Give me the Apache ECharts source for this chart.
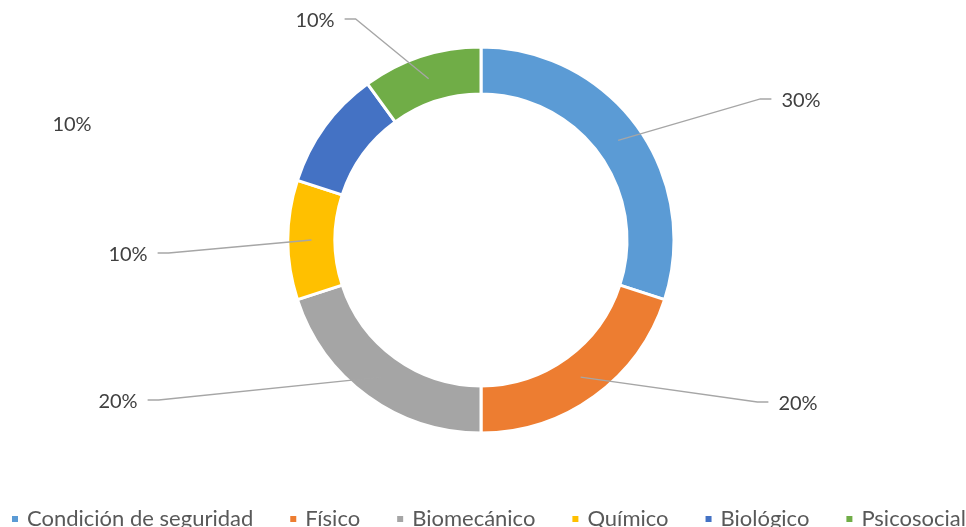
<!DOCTYPE html>
<html>
<head>
<meta charset="utf-8">
<script src="https://cdn.jsdelivr.net/npm/echarts@6/dist/echarts.min.js"></script>
<style>
  html, body { margin: 0; padding: 0; background: #fff; }
  #chart { width: 966px; height: 527px; }
</style>
</head>
<body>
<div id="chart"></div>
<script>
// categories and shares (percent)
var categories = ["Condición de seguridad", "Físico", "Biomecánico", "Químico", "Biológico", "Psicosocial"];
var shares = [30, 20, 20, 10, 10, 10];
var colors = ["#5B9BD5", "#ED7D31", "#A5A5A5", "#FFC000", "#4472C4", "#70AD47"];

// where Excel left each data label (text centre)
var labelSpots = [[801, 101], [798, 404], [118, 402], [128, 255], [72, 125], [315, 21]];

var CX = 481, CY = 240, R_IN = 146, R_OUT = 193;

var myChart = echarts.init(document.getElementById("chart"));

var total = shares.reduce(function (a, b) { return a + b; }, 0);

// point in the middle of the ring, at the middle angle of slice i
function ringMid(i) {
  var before = 0;
  for (var k = 0; k < i; k++) before += shares[k];
  var a = ((before + shares[i] / 2) / total) * Math.PI * 2;
  var r = (R_IN + R_OUT) / 2;
  return [CX + r * Math.sin(a), CY - r * Math.cos(a)];
}

var seriesData = categories.map(function (name, i) {
  var item = { name: name, value: shares[i], itemStyle: { color: colors[i] } };
  // the Biológico label was dragged away, no leader line
  if (i === 4) item.labelLine = { show: false };
  return item;
});

myChart.setOption({
  animation: false,
  textStyle: { fontFamily: "Lato" },
  legend: {
    data: categories,
    left: 5,
    top: 503,
    width: 1400, // keep it on one row, the last item runs off the edge like in Excel
    icon: "rect",
    itemWidth: 8,
    itemHeight: 8,
    itemGap: 35,
    textStyle: { fontSize: 22, color: "#595959", fontFamily: "Lato", padding: [0, 0, 0, 3] },
  },
  series: [
    {
      name: "Riesgos",
      type: "pie",
      center: [CX, CY],
      radius: [R_IN, R_OUT],
      startAngle: 90,
      clockwise: true,
      avoidLabelOverlap: false,
      itemStyle: { borderColor: "#fff", borderWidth: 3 },
      label: {
        show: true,
        position: "outside",
        formatter: function (p) {
          return Math.round(p.percent) + "%";
        },
        fontSize: 20,
        color: "#404040",
        fontFamily: "Lato",
      },
      labelLine: {
        show: true,
        length: 20,
        length2: 10,
        lineStyle: { color: "#A6A6A6", width: 1.3 },
      },
      labelLayout: function (params) {
        var i = params.dataIndex;
        var s = labelSpots[i];
        var out = { x: s[0], y: s[1], align: "center", verticalAlign: "middle" };
        if (i === 4) return out;
        var m = ringMid(i);
        var half = params.labelRect.width / 2;
        var ly = s[1] - 2;
        var ex, tx;
        if (m[0] > s[0]) {
          ex = s[0] + half + 10;
          tx = ex + 11;
        } else {
          ex = s[0] - half - 10;
          tx = ex - 11;
        }
        out.labelLinePoints = [m, [tx, ly], [ex, ly]];
        return out;
      },
      emphasis: { disabled: true },
      data: seriesData,
    },
  ],
});

// Excel draws the leader lines on top of the ring
var zr = myChart.getZr();
zr.storage.getDisplayList(true).forEach(function (el) {
  if (el.type === "polyline") {
    el.z2 = 100;
    el.markRedraw();
  }
});
zr.refreshImmediately();
</script>
</body>
</html>
